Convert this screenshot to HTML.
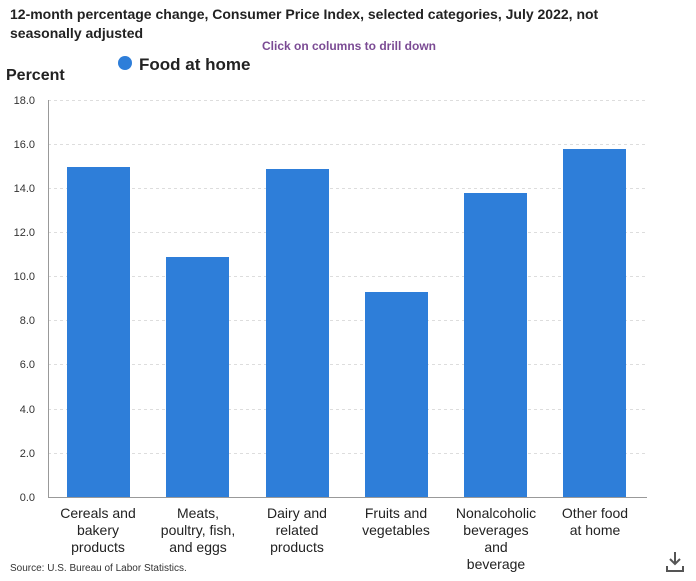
<!DOCTYPE html>
<html><head><meta charset="utf-8"><style>
body{margin:0;background:#fff;width:696px;height:576px;overflow:hidden;font-family:"Liberation Sans",sans-serif}
</style></head><body>
<svg width="696" height="576" xmlns="http://www.w3.org/2000/svg" font-family="Liberation Sans, sans-serif">
<text x="10" y="19" font-size="14" font-weight="bold" fill="#222">12-month percentage change, Consumer Price Index, selected categories, July 2022, not</text>
<text x="10" y="38" font-size="14" font-weight="bold" fill="#222">seasonally adjusted</text>
<text x="262" y="50" font-size="12" font-weight="bold" fill="#7b4b94">Click on columns to drill down</text>
<circle cx="125" cy="63" r="7" fill="#2e7ed9"/>
<text x="139" y="70" font-size="17" font-weight="bold" fill="#222">Food at home</text>
<text x="6" y="80" font-size="16" font-weight="bold" fill="#222">Percent</text>
<g stroke="#ddd" stroke-dasharray="3,3" stroke-width="1">
<line x1="48" x2="647" y1="100.5" y2="100.5"/><line x1="48" x2="647" y1="144.5" y2="144.5"/>
<line x1="48" x2="647" y1="188.5" y2="188.5"/><line x1="48" x2="647" y1="232.5" y2="232.5"/>
<line x1="48" x2="647" y1="276.5" y2="276.5"/><line x1="48" x2="647" y1="320.5" y2="320.5"/>
<line x1="48" x2="647" y1="364.5" y2="364.5"/><line x1="48" x2="647" y1="409.5" y2="409.5"/>
<line x1="48" x2="647" y1="453.5" y2="453.5"/>
</g>
<g font-size="11" fill="#333" text-anchor="end">
<text x="35" y="104">18.0</text><text x="35" y="148">16.0</text><text x="35" y="192">14.0</text>
<text x="35" y="236">12.0</text><text x="35" y="280">10.0</text><text x="35" y="324">8.0</text>
<text x="35" y="368">6.0</text><text x="35" y="413">4.0</text><text x="35" y="457">2.0</text>
<text x="35" y="501">0.0</text>
</g>
<g fill="#2e7ed9">
<rect x="67" y="167" width="63" height="330"/>
<rect x="166" y="257" width="63" height="240"/>
<rect x="266" y="169" width="63" height="328"/>
<rect x="365" y="292" width="63" height="205"/>
<rect x="464" y="193" width="63" height="304"/>
<rect x="563" y="149" width="63" height="348"/>
</g>
<line x1="48.5" y1="100" x2="48.5" y2="497" stroke="#999"/>
<line x1="48" y1="497.5" x2="647" y2="497.5" stroke="#999"/>
<g font-size="14" fill="#222" text-anchor="middle">
<text x="98" y="518">Cereals and</text><text x="98" y="535">bakery</text><text x="98" y="552">products</text>
<text x="198" y="518">Meats,</text><text x="198" y="535">poultry, fish,</text><text x="198" y="552">and eggs</text>
<text x="297" y="518">Dairy and</text><text x="297" y="535">related</text><text x="297" y="552">products</text>
<text x="396" y="518">Fruits and</text><text x="396" y="535">vegetables</text>
<text x="496" y="518">Nonalcoholic</text><text x="496" y="535">beverages</text><text x="496" y="552">and</text><text x="496" y="569">beverage</text>
<text x="595" y="518">Other food</text><text x="595" y="535">at home</text>
</g>
<text x="10" y="571" font-size="10" fill="#333">Source: U.S. Bureau of Labor Statistics.</text>
<g stroke="#555" stroke-width="2" fill="none">
<line x1="675" y1="552" x2="675" y2="564"/><polyline points="670,559 675,564 680,559"/>
<polyline points="667,566 667,571 683,571 683,566"/>
</g>
</svg>
</body></html>
